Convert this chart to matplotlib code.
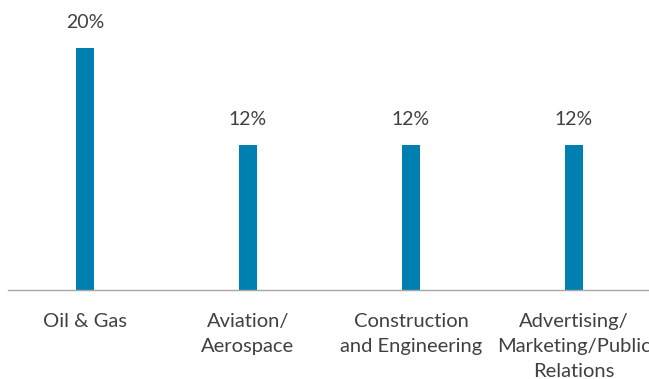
import matplotlib
matplotlib.use("Agg")
import matplotlib.pyplot as plt

categories = ["Oil & Gas", "Aviation/\nAerospace", "Construction\nand Engineering",
              "Advertising/\nMarketing/Public\nRelations"]
shares = [20, 12, 12, 12]
labels = ["20%", "12%", "12%", "12%"]

plt.rcParams['font.family'] = ['Lato', 'DejaVu Sans']
text_color = "#404040"
bar_color = "#0080B1"

W, H = 649, 379
fig = plt.figure(figsize=(W / 100, H / 100), dpi=100)
ax = fig.add_axes([8 / W, (H - 290) / H, 1 - 8 / W, (290 - 48) / H])

x = range(len(categories))
ax.bar(x, shares, width=0.11, color=bar_color)
ax.set_xlim(-0.472, 3.46)
ax.set_ylim(0, 20)

for xi, v, lab in zip(x, shares, labels):
    ax.annotate(lab, xy=(xi, v), xytext=(0, 18), textcoords="offset points",
                ha="center", va="center", fontsize=14, color=text_color)

for xi, cat in zip(x, categories):
    ax.annotate(cat, xy=(xi, 0), xytext=(0, -16.5), textcoords="offset points",
                ha="center", va="top", fontsize=14.5, color=text_color,
                linespacing=1.58)

for s in ["top", "right", "left"]:
    ax.spines[s].set_visible(False)
ax.spines["bottom"].set_color("#a6a6a6")
ax.spines["bottom"].set_linewidth(1.0)
ax.set_xticks([])
ax.set_yticks([])

fig.savefig("out.png", dpi=100)
